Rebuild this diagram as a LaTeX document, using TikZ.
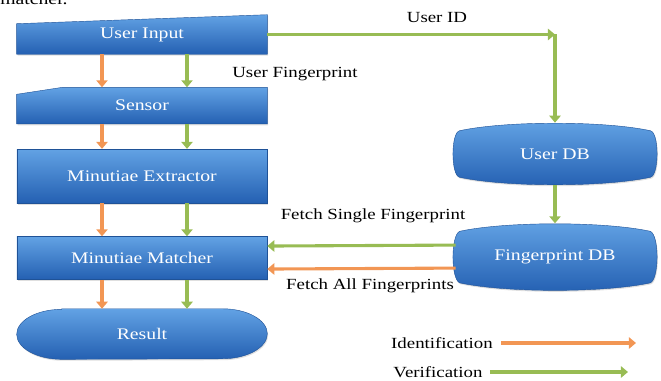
\documentclass[tikz,border=0pt]{standalone}
\usepackage{fontspec}
\setmainfont{Liberation Serif}[FakeStretch=1.22]
\usetikzlibrary{arrows.meta,positioning,calc,shadows}
\pgfdeclarelayer{background}
\pgfsetlayers{background,main}
\definecolor{boxtop}{RGB}{98,162,228}
\definecolor{boxbot}{RGB}{36,96,178}
\definecolor{idorange}{RGB}{242,150,84}
\definecolor{vfgreen}{RGB}{152,188,84}
\newcommand\dbshape[1]{%
  \shade[fill blk] ($(#1.north west)+(4,8)$)
    .. controls ($(#1.north west)+(50,-2)$) and ($(#1.north east)+(-50,-2)$) .. ($(#1.north east)+(-4,8)$)
    .. controls ($(#1.east)+(5,-22)$) and ($(#1.east)+(5,22)$) .. ($(#1.south east)+(-4,-8)$)
    .. controls ($(#1.south east)+(-50,2)$) and ($(#1.south west)+(50,2)$) .. ($(#1.south west)+(4,-8)$)
    .. controls ($(#1.west)+(-5,22)$) and ($(#1.west)+(-5,-22)$) .. cycle;}

\begin{document}
\begin{tikzpicture}[
      x=0.025cm,y=-0.025cm,
      blk/.style = {minimum width=6.25cm,inner sep=0,text=white,font=\fontsize{11.5}{13}\selectfont},
      fill blk/.style = {top color=boxtop,bottom color=boxbot,draw=boxbot!85!black,line width=0.3pt,
                         drop shadow={opacity=0.25,shadow xshift=0.6pt,shadow yshift=-1pt}},
      lbl/.style = {inner sep=0,font=\fontsize{11}{13}\selectfont},
      idarrow/.style = {idorange,line width=2.2pt,-{Triangle[width=8pt,length=5pt]}},
      vfarrow/.style = {vfgreen,line width=2.2pt,-{Triangle[width=8pt,length=5pt]}}
      ]
      \useasboundingbox (0,0) rectangle (661,380);
      % caption text cut by the page edge
      \node (cap)[anchor=base west,inner sep=0,font=\fontsize{11.5}{13}\selectfont] at (0,5) {matcher.};

      % left column
      \node (ui)[blk,minimum height=0.975cm] at (142,34.5) {User Input};
      \node (sensor)[blk,minimum height=0.9cm,below = 0.825cm of ui] {Sensor};
      \node (mex)[blk,fill blk,minimum height=1.35cm,below = 0.625cm of sensor] {Minutiae Extractor};
      \node (mm)[blk,fill blk,minimum height=1.075cm,below = 0.825cm of mex] {Minutiae Matcher};
      \node (res)[blk,minimum height=1.25cm,below = 0.725cm of mm] {Result};

      % databases
      \node (udb)[blk,minimum width=4.95cm,minimum height=1.55cm] at (555,154) {User DB};
      \node (fdb)[blk,minimum width=4.95cm,minimum height=1.675cm,below = 0.95cm of udb] {Fingerprint DB};

      \begin{pgfonlayer}{background}
        \shade[fill blk] (ui.south west) -- ($(ui.north west)+(0,9)$) -- (ui.north east) -- (ui.south east) -- cycle;
        \shade[fill blk] (sensor.south west) -- ($(sensor.north west)+(0,7)$) -- ($(sensor.north west)+(46,0)$)
          -- (sensor.north east) -- (sensor.south east) -- cycle;
        \shade[fill blk] ($(res.north west)+(45,0)$) -- ($(res.north east)+(-45,0)$)
          arc[start angle=90,end angle=-90,x radius=1.125cm,y radius=0.625cm]
          -- ($(res.south west)+(45,0)$)
          arc[start angle=270,end angle=90,x radius=1.125cm,y radius=0.625cm] -- cycle;
        \dbshape{udb}
        \dbshape{fdb}
      \end{pgfonlayer}

      % flow arrows
      \foreach \a/\b in {ui/sensor,sensor/mex,mex/mm,mm/res}{
        \draw[idarrow] ($(\a.south)+(-40,0)$) -- ($(\b.north)+(-40,0)$);
        \draw[vfarrow] ($(\a.south)+(45,0)$) -- ($(\b.north)+(45,0)$);
      }
      \node (ufp)[lbl] at (295,74) {User Fingerprint};

      \coordinate (bend) at (ui.east -| udb.north);
      \draw[vfarrow] (ui.east) -- (bend);
      \draw[vfarrow] (bend) -- (udb.north);
      \node (uid)[lbl] at (437,18) {User ID};

      \draw[vfarrow] (udb.south) -- (fdb.north);
      \draw[vfarrow] ($(fdb.west)+(0,-12)$) -- ($(mm.east)+(0,-12)$);
      \draw[idarrow] ($(fdb.west)+(0,11)$) -- ($(mm.east)+(0,11)$);
      \node (single)[lbl] at (373,216) {Fetch Single Fingerprint};
      \node (all)[lbl] at (370,286) {Fetch All Fingerprints};

      % legend
      \node (idl)[lbl] at (442,343) {Identification};
      \coordinate (idend) at (636,343);
      \draw[idarrow] ($(idl.east)+(8,0)$) -- (idend);
      \node (vfl)[lbl] at (438,372) {Verification};
      \coordinate (vfend) at (628,372);
      \draw[vfarrow] ($(vfl.east)+(7,0)$) -- (vfend);
    \end{tikzpicture}
\end{document}
